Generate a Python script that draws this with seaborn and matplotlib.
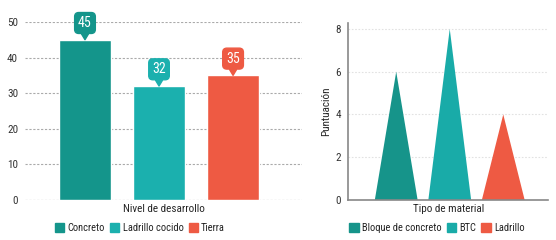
import matplotlib
matplotlib.use("Agg")
import matplotlib.pyplot as plt
import seaborn as sns
import pandas as pd
from matplotlib.patches import Patch
from matplotlib import font_manager

# Data
left_categories = ["Concreto", "Ladrillo cocido", "Tierra"]
left_values = [45, 32, 35]
left_colors = ["#14958b", "#1bb0ae", "#ee5a43"]
left_yticks = [0, 10, 20, 30, 40, 50]

right_categories = ["Bloque de concreto", "BTC", "Ladrillo"]
right_values = [6, 8, 4]
right_colors = ["#16948a", "#19aba8", "#ee5a43"]
right_yticks = [0, 2, 4, 6, 8]

sns.set_theme(style="white")
names = {f.name for f in font_manager.fontManager.ttflist}
fam = [n for n in ["Liberation Sans Narrow", "Roboto Condensed", "Liberation Sans"] if n in names]
plt.rcParams['font.family'] = fam + ['DejaVu Sans']
plt.rcParams['text.color'] = '#222222'

fig = plt.figure(figsize=(5.56, 2.4), dpi=100)

# ---------------- Left chart ----------------
axL = fig.add_axes([0.045, 0.1667, 0.498, 0.742])
dfL = pd.DataFrame({"cat": left_categories, "val": left_values})
sns.barplot(data=dfL, x="cat", y="val", hue="cat", palette=left_colors,
            width=0.7, legend=False, ax=axL, saturation=1)
axL.set_xlim(-0.81, 2.93)
axL.set_ylim(0, 50)
axL.set_yticks(left_yticks)
for y in left_yticks:
    axL.axhline(y, color="#aaaaaa" if y > 0 else "#777777", lw=0.8,
                ls=(0, (2, 1.5)), zorder=0)
for s in axL.spines.values():
    s.set_visible(False)
axL.set_xticks([])
axL.set_xlabel("Nivel de desarrollo", fontsize=8, labelpad=3)
axL.set_ylabel("")
axL.tick_params(axis="y", labelsize=8, pad=5, length=0, colors="#333333")
for i, (v, c) in enumerate(zip(left_values, left_colors)):
    axL.annotate(str(v), xy=(i, v), xytext=(0, 7), textcoords="offset points",
                 ha="center", va="bottom", fontsize=10, color="white",
                 bbox=dict(boxstyle="round,pad=0.25,rounding_size=0.3", fc=c, ec=c),
                 arrowprops=dict(arrowstyle="wedge,tail_width=0.5,shrink_factor=0.5",
                                 fc=c, ec=c, shrinkA=0, shrinkB=0),
                 annotation_clip=False)
handlesL = [Patch(facecolor=c, edgecolor=c, label=l) for l, c in zip(left_categories, left_colors)]
fig.legend(handles=handlesL, loc="center", bbox_to_anchor=(140 / 556, 1 - 228 / 240),
           ncol=3, frameon=False, fontsize=7.5, handlelength=0.9, handleheight=0.9,
           handletextpad=0.3, columnspacing=0.5, borderpad=0)

# ---------------- Right chart ----------------
axR = fig.add_axes([0.626, 0.1667, 0.36, 0.7393])
axR.set_xlim(-0.9, 2.84)
axR.set_ylim(0, 8.3)
half = 0.4
for i, (v, c) in enumerate(zip(right_values, right_colors)):
    axR.fill([i - half, i, i + half], [0, v, 0], color=c, lw=0, zorder=2)
axR.set_yticks(right_yticks)
for y in right_yticks[1:]:
    axR.axhline(y, color="#e2e2e2", lw=0.8, ls=(0, (1.5, 1.5)), zorder=0)
axR.set_xticks([])
for side in ["top", "right"]:
    axR.spines[side].set_visible(False)
for side in ["left", "bottom"]:
    axR.spines[side].set_color("#888888")
    axR.spines[side].set_linewidth(1.2)
axR.tick_params(axis="y", labelsize=8, pad=5, length=0, colors="#333333")
axR.set_xlabel("Tipo de material", fontsize=8, labelpad=3)
axR.set_ylabel("Puntuación", fontsize=8, labelpad=3)
handlesR = [Patch(facecolor=c, edgecolor=c, label=l) for l, c in zip(right_categories, right_colors)]
fig.legend(handles=handlesR, loc="center", bbox_to_anchor=(437 / 556, 1 - 228 / 240),
           ncol=3, frameon=False, fontsize=7.5, handlelength=0.9, handleheight=0.9,
           handletextpad=0.3, columnspacing=0.5, borderpad=0)

fig.savefig("out.png", dpi=100)
